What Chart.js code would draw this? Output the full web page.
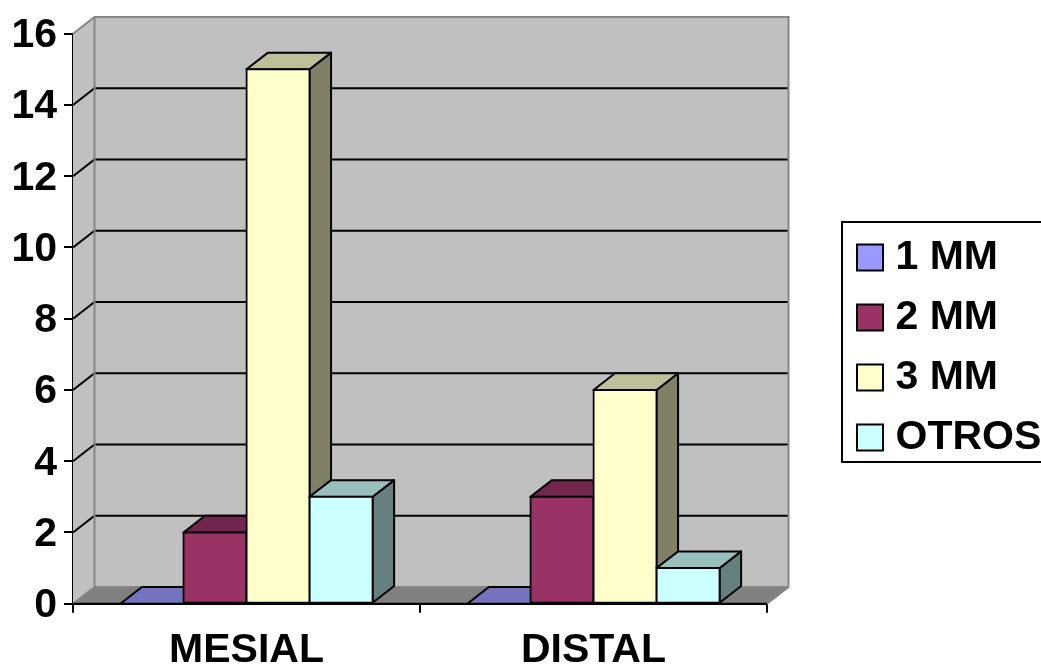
<!DOCTYPE html>
<html>
<head>
<meta charset="utf-8">
<style>html,body{margin:0;padding:0;background:#fff}canvas{display:block}</style>
<script src="https://cdn.jsdelivr.net/npm/chart.js@4/dist/chart.umd.min.js"></script>
</head>
<body>
<canvas id="c" width="1041" height="667"></canvas>
<script>
// Series and categories
const categories = ['MESIAL', 'DISTAL'];
const seriesNames = ['1 MM', '2 MM', '3 MM', 'OTROS'];
const oneMm = [0, 0];
const twoMm = [2, 3];
const threeMm = [15, 6];
const otros = [3, 1];
const seriesColors = ['#9999ff', '#993366', '#ffffcc', '#ccffff'];

// Oblique projection of the box
const depthX = 21.5;
const depthY = 16.7;
const wallFill = '#c0c0c0';
const floorFill = '#808080';
const wallEdge = '#868686';

function shade(hex, f) {
  const n = parseInt(hex.slice(1), 16);
  const ch = s => Math.round(((n >> s) & 255) * f);
  return `rgb(${ch(16)},${ch(8)},${ch(0)})`;
}

function poly(ctx, pts, fill, stroke, width) {
  ctx.beginPath();
  pts.forEach((p, i) => i ? ctx.lineTo(p[0], p[1]) : ctx.moveTo(p[0], p[1]));
  ctx.closePath();
  if (fill) { ctx.fillStyle = fill; ctx.fill(); }
  if (stroke) { ctx.strokeStyle = stroke; ctx.lineWidth = width; ctx.lineJoin = 'round'; ctx.stroke(); }
}

const box3d = {
  id: 'box3d',
  beforeLayout(chart) {
    // Reserve the whole right-hand column for the legend
    const lg = chart.legend;
    if (!lg.__fitWrapped) {
      const fit = lg.fit;
      lg.fit = function () { fit.call(this); this.width = 274; };
      lg.__fitWrapped = true;
    }
  },
  afterLayout(chart) {
    const lg = chart.legend;
    lg.left = 846; lg.right = 1041; lg.top = 218; lg.bottom = 667;
  },
  beforeDraw(chart) {
    const { ctx } = chart;
    // Legend frame runs off the right edge
    ctx.save();
    ctx.fillStyle = '#fff';
    ctx.fillRect(842, 222, 210, 240);
    ctx.strokeStyle = '#000';
    ctx.lineWidth = 2;
    ctx.strokeRect(842, 222, 210, 240);
    ctx.restore();
  },
  beforeDatasetsDraw(chart) {
    const { ctx, chartArea: a, scales: { y } } = chart;
    const L = a.left, R = a.right, T = a.top, B = a.bottom;
    const dx = depthX, dy = depthY;
    ctx.save();
    // Back wall, side wall, floor
    poly(ctx, [[L + dx, T - dy], [R + dx, T - dy], [R + dx, B - dy], [L + dx, B - dy]], wallFill);
    poly(ctx, [[L, T], [L + dx, T - dy], [L + dx, B - dy], [L, B]], wallFill);
    poly(ctx, [[L, B], [L + dx, B - dy], [R + dx, B - dy], [R, B]], floorFill);
    // Gridlines climb the side wall and cross the back wall
    y.ticks.forEach(t => {
      if (t.value === y.min || t.value === y.max) return;
      const py = y.getPixelForValue(t.value);
      ctx.beginPath();
      ctx.moveTo(L, py);
      ctx.lineTo(L + dx, py - dy);
      ctx.lineTo(R + dx, py - dy);
      ctx.strokeStyle = '#000';
      ctx.lineWidth = 2;
      ctx.stroke();
    });
    // Wall edges
    ctx.strokeStyle = wallEdge;
    ctx.lineWidth = 2;
    ctx.beginPath();
    ctx.moveTo(L, T); ctx.lineTo(L + dx, T - dy); ctx.lineTo(R + dx, T - dy); ctx.lineTo(R + dx, B - dy); ctx.lineTo(R, B);
    ctx.moveTo(L + dx, T - dy); ctx.lineTo(L + dx, B - dy); ctx.lineTo(R + dx, B - dy);
    ctx.moveTo(L + dx, B - dy); ctx.lineTo(L, B);
    ctx.stroke();
    ctx.strokeStyle = '#000';
    ctx.beginPath();
    ctx.moveTo(L, B); ctx.lineTo(R, B);
    ctx.stroke();

    // Bars left to right, each with its top and right faces, later bars on top
    chart.data.datasets.forEach((ds, i) => {
      const meta = chart.getDatasetMeta(i);
      const col = ds.backgroundColor;
      meta.data.forEach(bar => {
        const { x, y: top, base, width } = bar.getProps(['x', 'y', 'base', 'width']);
        const l = x - width / 2, r = x + width / 2;
        poly(ctx, [[r, top], [r + dx, top - dy], [r + dx, base - dy], [r, base]], shade(col, 0.5), '#000', 2);
        poly(ctx, [[l, top], [l + dx, top - dy], [r + dx, top - dy], [r, top]], shade(col, 0.75), '#000', 2);
      });
      meta.controller.draw();
    });
    ctx.restore();
    return false;
  }
};

const font = { family: '"Liberation Sans", Arial, sans-serif', weight: 'bold', size: 41 };

const seriesValues = [oneMm, twoMm, threeMm, otros];

new Chart(document.getElementById('c'), {
  type: 'bar',
  data: {
    labels: categories,
    datasets: seriesNames.map((name, i) => ({
      label: name,
      data: seriesValues[i],
      backgroundColor: seriesColors[i],
      borderColor: '#000',
      borderWidth: 2,
      borderSkipped: false,
      inflateAmount: 1,
      categoryPercentage: 0.727,
      barPercentage: 1
    }))
  },
  plugins: [box3d],
  options: {
    responsive: false,
    animation: false,
    layout: { padding: { top: 33.7, left: 0, right: 0, bottom: 0 } },
    plugins: {
      tooltip: { enabled: false },
      title: { display: false },
      legend: {
        display: true,
        position: 'right',
        align: 'start',
        labels: {
          color: '#000',
          font,
          usePointStyle: true,
          pointStyle: 'rect',
          boxWidth: 10,
          boxHeight: 26,
          padding: 19
        }
      }
    },
    scales: {
      x: {
        type: 'category',
        afterFit(s) { s.height = 63.3; },
        border: { display: true, color: '#000', width: 2 },
        grid: { offset: true, drawOnChartArea: false, drawTicks: true, tickLength: 9, color: '#000', lineWidth: 2 },
        ticks: { color: '#000', font, padding: 13, maxRotation: 0 }
      },
      y: {
        min: 0,
        max: 16,
        afterFit(s) { s.width = 73; },
        border: { display: true, color: '#000', width: 2 },
        grid: { drawOnChartArea: false, drawTicks: true, tickLength: 9, color: '#000', lineWidth: 2 },
        ticks: { stepSize: 2, color: '#000', font, padding: 7, labelOffset: 2 }
      }
    }
  }
});
</script>
</body>
</html>
